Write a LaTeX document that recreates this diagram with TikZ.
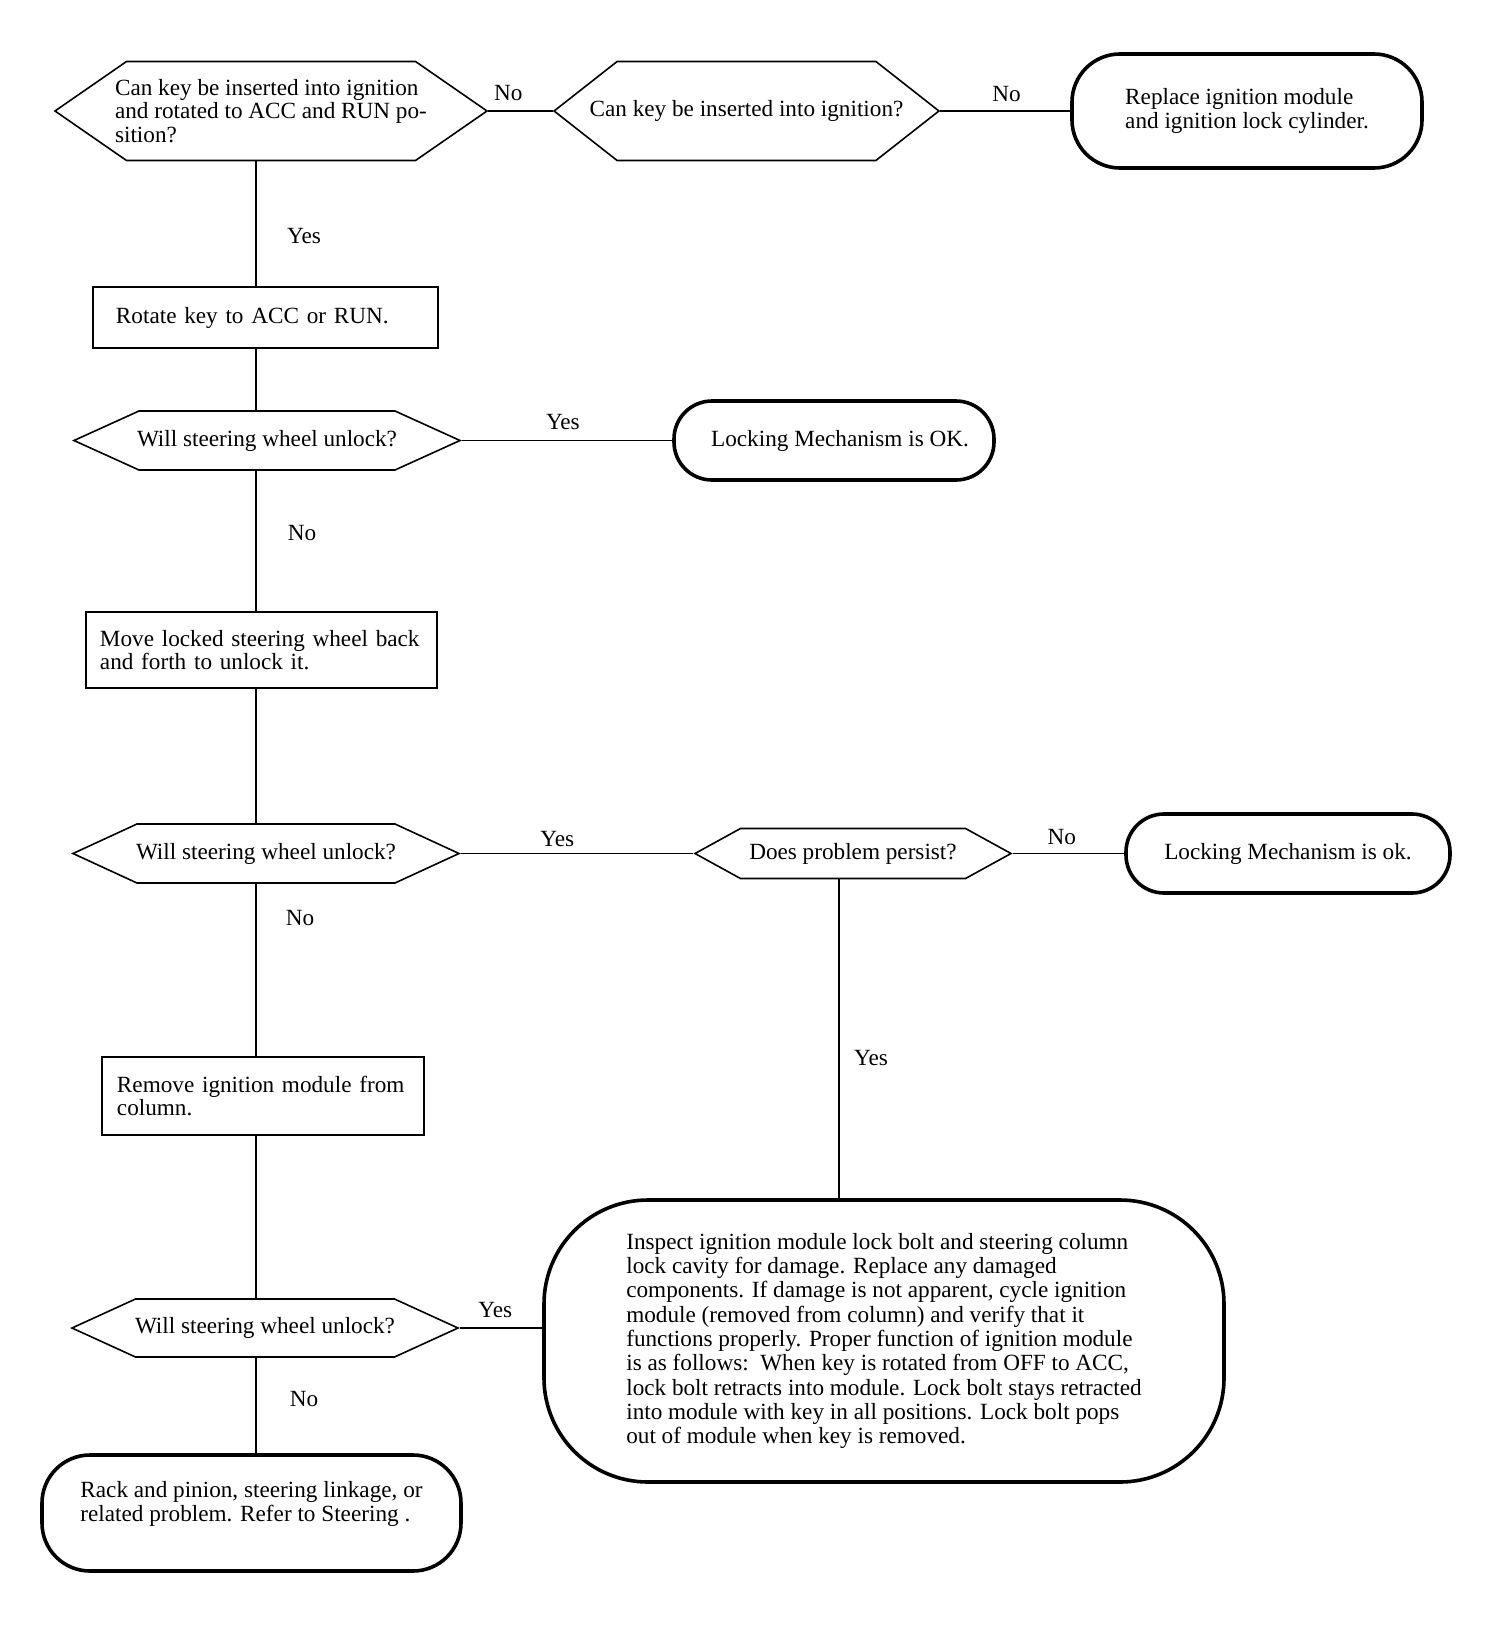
\documentclass[tikz,border=0pt]{standalone}
\usepackage{fontspec}
\setmainfont{Liberation Serif}
\usepackage{tikz}
\usetikzlibrary{shapes.symbols, shapes.misc, positioning}
\tikzstyle{block} = [rectangle, draw=black, line width=0.8pt, align=left, fill=white, font=\fontsize{11.6}{11.75}\selectfont]
\tikzstyle{choix} = [signal, signal to=west and east, draw=black, line width=0.8pt, align=left, inner ysep=0pt, fill=white, font=\fontsize{11.6}{11.75}\selectfont]
\tikzstyle{terminus} = [rectangle, draw=black, line width=1.8pt, align=left, fill=white, font=\fontsize{11.6}{11.75}\selectfont]
\tikzstyle{line} = [line width=0.8pt]
\tikzstyle{lab} = [inner sep=0pt, font=\fontsize{11.6}{11.75}\selectfont]

\begin{document}
\begin{tikzpicture}[node distance=100pt]
        \useasboundingbox (-135.5pt,55.5pt) rectangle (616.5pt,-760.5pt);
        \node (dec1) [choix, minimum width=216pt, minimum height=49.5pt, signal pointer angle=69.4, inner xsep=-6pt] {Can key be inserted into ignition\\and rotated to ACC and RUN po-\\sition?};
        \node (dec2) [choix, right of=dec1, xshift=+137.75pt, minimum width=191.5pt, minimum height=49.5pt, signal pointer angle=76.3, inner xsep=-13.75pt] {Can key be inserted into ignition?};
        \node (stop1) [terminus, right of=dec2, xshift=+150.25pt, minimum width=175pt, minimum height=57pt, rounded corners=24pt, font=\fontsize{11.6}{10}\selectfont] {Replace ignition module\\and ignition lock cylinder.};
        \node (blo1) [block, below of=dec1, xshift=-2.75pt, yshift=-3.25pt, inner xsep=11.5pt, text width=149.5pt, minimum height=30.5pt] {Rotate key to ACC or RUN.};
        \node (dec3) [choix, below of=blo1, xshift=+0.75pt, yshift=+38.5pt, minimum width=193pt, minimum height=29.5pt, signal pointer angle=48.8, inner xsep=-1pt] {Will steering wheel unlock?};
        \node (stop2) [terminus, right of=dec3, xshift=+183.5pt, minimum width=160pt, minimum height=39.5pt, rounded corners=19pt] {\hspace{6pt}Locking Mechanism is OK.};
        \node (blo2) [block, below of=dec3, xshift=-2.75pt, yshift=-4.75pt, inner xsep=7pt, text width=161.5pt, minimum height=38pt] {Move locked steering wheel back\\and forth to unlock it.};
        \node (dec4) [choix, below of=blo2, xshift=+2.25pt, yshift=-1.75pt, minimum width=193pt, minimum height=29.5pt, signal pointer angle=49.5, inner xsep=-1pt] {Will steering wheel unlock?};
        \node (dec5) [choix, right of=dec4, xshift=+193.5pt, minimum width=158pt, minimum height=25pt, signal pointer angle=57.6, inner xsep=4pt] {Does problem persist?};
        \node (stop3) [terminus, right of=dec5, xshift=+117.5pt, minimum width=162pt, minimum height=39.5pt, rounded corners=19pt] {Locking Mechanism is ok.};
        \node (blo3) [block, below of=dec4, xshift=-1.5pt, yshift=-21.25pt, inner xsep=7.5pt, text width=146pt, minimum height=39pt] {Remove ignition module from\\column.};
        \node (dec6) [choix, below of=blo3, xshift=+1pt, yshift=-16pt, minimum width=193pt, minimum height=29pt, signal pointer angle=49.1, inner xsep=-0.5pt] {Will steering wheel unlock?};
        \node (stop4) [terminus, right of=dec6, xshift=+209.5pt, yshift=-6.5pt, minimum width=340pt, minimum height=141pt, rounded corners=52pt, font=\fontsize{11.6}{12.15}\selectfont] {Inspect ignition module lock bolt and steering column\\lock cavity for damage. Replace any damaged\\components. If damage is not apparent, cycle ignition\\module (removed from column) and verify that it\\functions properly. Proper function of ignition module\\is as follows:\ \ When key is rotated from OFF to ACC,\\lock bolt retracts into module. Lock bolt stays retracted\\into module with key in all positions. Lock bolt pops\\out of module when key is removed.};
        \node (stop5) [terminus, below of=dec6, xshift=-6.75pt, yshift=+7.5pt, minimum width=209.5pt, minimum height=58pt, rounded corners=24pt] {Rack and pinion, steering linkage, or\\related problem. Refer to Steering .\\\mbox{}};

        \coordinate (col1) at ([xshift=-7.5pt]dec1.south);
        \coordinate (col2) at ([xshift=-7pt]dec5.south);

        \draw [line] (dec1.east) -- node[lab, pos=0.31, yshift=9pt] {No} (dec2.west);
        \draw [line] (dec2.east) -- node[lab, pos=0.51, yshift=8.5pt] {No} (stop1.west);
        \draw [line] (dec1.south -| col1) -- node[lab, pos=0.6, xshift=24pt] {Yes} (blo1.north -| col1);
        \draw [line] (blo1.south -| col1) -- (dec3.north -| col1);
        \draw [line] (dec3.east) -- node[lab, pos=0.48, yshift=9pt] {Yes} (stop2.west);
        \draw [line] (dec3.south -| col1) -- node[lab, pos=0.44, xshift=23pt] {No} (blo2.north -| col1);
        \draw [line] (blo2.south -| col1) -- (dec4.north -| col1);
        \draw [line] (dec4.east) -- node[lab, pos=0.415, yshift=7.25pt] {Yes} (dec5.west);
        \draw [line] (dec5.east) -- node[lab, pos=0.44, yshift=8pt] {No} (stop3.west);
        \draw [line] (dec4.south -| col1) -- node[lab, pos=0.2, xshift=22pt] {No} (blo3.north -| col1);
        \draw [line] (blo3.south -| col1) -- (dec6.north -| col1);
        \draw [line] (dec5.south -| col2) -- node[lab, pos=0.56, xshift=16pt] {Yes} (stop4.north -| col2);
        \draw [line] (dec6.east) -- node[lab, pos=0.43, yshift=9pt] {Yes} (dec6.east -| stop4.west);
        \draw [line] (dec6.south -| col1) -- node[lab, pos=0.43, xshift=24pt] {No} (stop5.north -| col1);
    \end{tikzpicture}
\end{document}
